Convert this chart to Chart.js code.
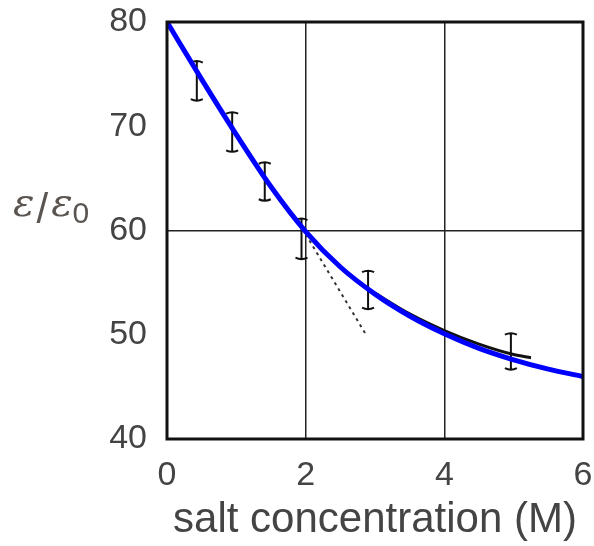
<!DOCTYPE html>
<html>
<head>
<meta charset="utf-8">
<script src="https://cdn.jsdelivr.net/npm/chart.js@4/dist/chart.umd.min.js"></script>
<style>
  html, body { margin: 0; padding: 0; background: #fff; }
  #wrap { width: 594px; height: 546px; }
</style>
</head>
<body>
<div id="wrap"><canvas id="chart"></canvas></div>
<script>
// fitted curve (blue)
const fitX = [0, 0.5, 1, 1.5, 2, 2.5, 3, 3.5, 4, 4.5, 5, 5.5, 6];
const fitY = [80, 74.5, 69.2, 64.2, 59.9, 56.5, 53.9, 51.8, 50.1, 48.7, 47.6, 46.7, 46.0];

// old solid curve (black) from the scanned figure
const oldX = [3, 3.5, 4, 4.5, 5, 5.25];
const oldY = [54.0, 52.0, 50.4, 49.1, 48.1, 47.8];

// dotted slope line
const slopeX = [1.95, 2.88];
const slopeY = [60.2, 49.9];

// measured points with error bars
const errX = [0.43, 0.94, 1.41, 1.94, 2.9, 4.96];
const errHigh = [76.2, 71.3, 66.5, 61.1, 56.1, 50.1];
const errLow = [72.5, 67.6, 62.9, 57.3, 52.5, 46.7];

// axis ticks
const xTicks = [0, 2, 4, 6];
const yTicks = [40, 50, 60, 70, 80];
const xGridAt = [2, 4];
const yGridAt = [60];

const toPoints = (xs, ys) => xs.map((v, i) => ({ x: v, y: ys[i] }));

const errorBars = {
    id: 'errorBars',
    beforeDatasetsDraw(chart) {
        const { ctx, scales: { x, y } } = chart;
        ctx.save();
        ctx.strokeStyle = '#111';
        ctx.lineWidth = 2;
        errX.forEach((v, i) => {
            const px = x.getPixelForValue(v);
            const top = y.getPixelForValue(errHigh[i]);
            const bot = y.getPixelForValue(errLow[i]);
            ctx.beginPath();
            ctx.moveTo(px, top);
            ctx.lineTo(px, bot);
            ctx.moveTo(px - 6, top + 1);
            ctx.quadraticCurveTo(px, top - 2, px + 6, top + 1);
            ctx.moveTo(px - 6, bot - 1);
            ctx.quadraticCurveTo(px, bot + 2, px + 6, bot - 1);
            ctx.stroke();
        });
        ctx.restore();
    }
};

const frameAndLabel = {
    id: 'frameAndLabel',
    afterDraw(chart) {
        const { ctx, chartArea: a } = chart;
        ctx.save();
        ctx.strokeStyle = '#111';
        ctx.lineWidth = 3;
        ctx.strokeRect(a.left, a.top, a.right - a.left, a.bottom - a.top);

        // y label: ε/ε0
        ctx.fillStyle = '#5a5550';
        ctx.textBaseline = 'alphabetic';
        ctx.font = 'italic 40px "DejaVu Serif"';
        let xx = 13;
        const base = 216;
        ctx.fillText('ε', xx, base);
        xx += ctx.measureText('ε').width + 2;
        ctx.font = '42px "Liberation Sans"';
        ctx.fillText('/', xx, base + 7);
        xx += ctx.measureText('/').width + 3;
        ctx.font = 'italic 40px "DejaVu Serif"';
        ctx.fillText('ε', xx, base);
        xx += ctx.measureText('ε').width;
        ctx.font = '30px "Liberation Sans"';
        ctx.fillText('0', xx, base + 7);
        ctx.restore();
    }
};

new Chart(document.getElementById('chart'), {
    type: 'scatter',
    data: {
        datasets: [
            {
                data: toPoints(fitX, fitY),
                showLine: true,
                borderColor: '#0000ff',
                borderWidth: 5,
                pointRadius: 0,
                cubicInterpolationMode: 'monotone'
            },
            {
                data: toPoints(oldX, oldY),
                showLine: true,
                borderColor: '#111',
                borderWidth: 3,
                pointRadius: 0,
                cubicInterpolationMode: 'monotone'
            },
            {
                data: toPoints(slopeX, slopeY),
                showLine: true,
                borderColor: '#333',
                borderWidth: 2,
                borderDash: [3, 4],
                pointRadius: 0
            }
        ]
    },
    options: {
        responsive: true,
        maintainAspectRatio: false,
        animation: false,
        layout: { padding: 0 },
        plugins: { legend: { display: false }, tooltip: { enabled: false } },
        scales: {
            x: {
                type: 'linear',
                min: 0,
                max: 6,
                afterBuildTicks: (s) => { s.ticks = xTicks.map(v => ({ value: v })); },
                afterFit: (s) => { s.height = 107; s.paddingLeft = 0; s.paddingRight = 11; },
                border: { display: false },
                grid: {
                    drawTicks: false,
                    lineWidth: 1.5,
                    color: (c) => xGridAt.includes(c.tick && c.tick.value) ? '#222' : 'rgba(0,0,0,0)'
                },
                ticks: {
                    padding: 16,
                    color: '#444',
                    font: { family: '"Liberation Sans", Arial', size: 34 },
                    maxRotation: 0
                },
                title: {
                    display: true,
                    text: 'salt concentration (M)',
                    color: '#444',
                    font: { family: '"Liberation Sans", Arial', size: 42 },
                    padding: { top: 0, bottom: 0 }
                }
            },
            y: {
                min: 40,
                max: 80,
                afterBuildTicks: (s) => { s.ticks = yTicks.map(v => ({ value: v })); },
                afterFit: (s) => { s.width = 167; s.paddingTop = 22; s.paddingBottom = 0; },
                border: { display: false },
                grid: {
                    drawTicks: false,
                    lineWidth: 1.5,
                    color: (c) => yGridAt.includes(c.tick && c.tick.value) ? '#222' : 'rgba(0,0,0,0)'
                },
                ticks: {
                    padding: 20,
                    color: '#444',
                    font: { family: '"Liberation Sans", Arial', size: 34 }
                }
            }
        }
    },
    plugins: [errorBars, frameAndLabel]
});
</script>
</body>
</html>
